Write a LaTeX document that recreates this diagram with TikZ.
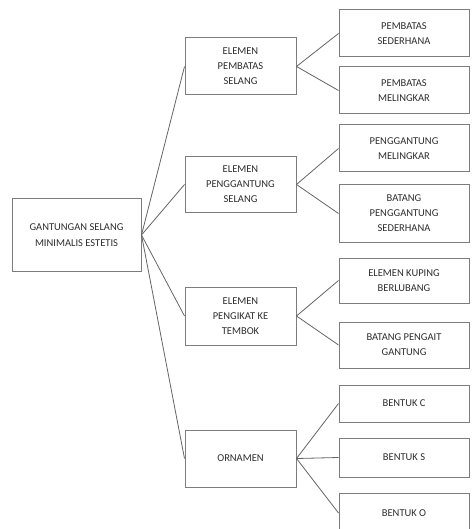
\documentclass[tikz,border=0pt]{standalone}
\usepackage{fontspec}
\setmainfont{Carlito}
\definecolor{boxgray}{RGB}{125,125,125}
\definecolor{linegray}{RGB}{100,100,100}
\definecolor{txtgray}{RGB}{45,45,45}
\begin{document}
\begin{tikzpicture}[x=1pt,y=-1pt,
  box/.style={draw=boxgray,line width=1pt,rectangle,inner sep=0pt,align=center,
    text=txtgray,font=\fontsize{10.5}{15}\selectfont},
  rootbox/.style={box,minimum width=129pt,minimum height=72pt,font=\fontsize{10.5}{16.5}\selectfont},
  midbox/.style={box,minimum width=111pt},
  leafbox/.style={box,minimum width=130pt},
  link/.style={draw=linegray,line width=0.8pt}]
\clip (0,0) rectangle (471,529);
\node[rootbox] (root) at (76.5,235) {GANTUNGAN SELANG\\MINIMALIS ESTETIS};
\node[midbox,minimum height=57pt] (m1) at (240.5,66.5) {ELEMEN\\PEMBATAS\\SELANG};
\node[midbox,minimum height=55pt] (m2) at (240.5,184.5) {ELEMEN\\PENGGANTUNG\\SELANG};
\node[midbox,minimum height=58pt] (m3) at (240.5,316) {ELEMEN\\PENGIKAT KE\\TEMBOK};
\node[midbox,minimum height=57pt] (m4) at (240.5,458.5) {ORNAMEN};
\node[leafbox,minimum height=47pt] (l1) at (404,33.5) {PEMBATAS\\SEDERHANA};
\node[leafbox,minimum height=47pt] (l2) at (404,90.5) {PEMBATAS\\MELINGKAR};
\node[leafbox,minimum height=47pt] (l3) at (404,148.5) {PENGGANTUNG\\MELINGKAR};
\node[leafbox,minimum height=57pt] (l4) at (404,213.5) {BATANG\\PENGGANTUNG\\SEDERHANA};
\node[leafbox,minimum height=45pt] (l5) at (404,280.5) {ELEMEN KUPING\\BERLUBANG};
\node[leafbox,minimum height=46pt] (l6) at (404,345) {BATANG PENGAIT\\GANTUNG};
\node[leafbox,minimum height=37pt] (l7) at (404,403.5) {BENTUK C};
\node[leafbox,minimum height=39pt] (l8) at (404,457.5) {BENTUK S};
\node[leafbox,minimum height=40pt] (l9) at (404,513) {BENTUK O};
\foreach \m in {m1,m2,m3,m4} \draw[link] (root.east) -- (\m.west);
\foreach \a/\b in {m1/l1,m1/l2,m2/l3,m2/l4,m3/l5,m3/l6,m4/l7,m4/l8,m4/l9}
  \draw[link] (\a.east) -- (\b.west);
\end{tikzpicture}
\end{document}
